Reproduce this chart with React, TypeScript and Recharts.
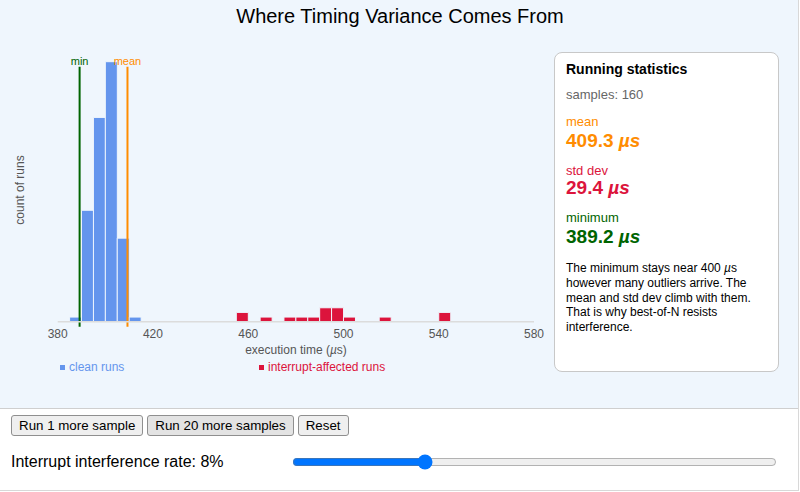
import { BarChart, Bar, XAxis, YAxis, ReferenceLine } from 'recharts'

// 5 µs bins, left edge of each bin
const bins = [
  380, 385, 390, 395, 400, 405, 410, 415, 420, 425,
  430, 435, 440, 445, 450, 455, 460, 465, 470, 475,
  480, 485, 490, 495, 500, 505, 510, 515, 520, 525,
  530, 535, 540, 545, 550, 555, 560, 565, 570, 575,
]
const cleanCounts = [
  0, 1, 24, 44, 56, 18, 1, 0, 0, 0,
  0, 0, 0, 0, 0, 0, 0, 0, 0, 0,
  0, 0, 0, 0, 0, 0, 0, 0, 0, 0,
  0, 0, 0, 0, 0, 0, 0, 0, 0, 0,
]
const interruptCounts = [
  0, 0, 0, 0, 0, 0, 0, 0, 0, 0,
  0, 0, 0, 0, 0, 2, 0, 1, 0, 1,
  1, 1, 3, 3, 1, 0, 0, 1, 0, 0,
  0, 0, 2, 0, 0, 0, 0, 0, 0, 0,
]
const timeTicks = [380, 420, 460, 500, 540, 580]
const minTime = 389.2
const meanTime = 409.3
const stdDev = 29.4
const sampleCount = 160
const ratePct = 8

const BLUE = '#6495ED'
const RED = '#DC143C'
const ORANGE = '#FF8C00'
const GREEN = '#006400'
const FONT = '"Liberation Sans", Arial, Helvetica, sans-serif'

const data = bins.map((b, i) => ({
  bin: b,
  mid: b + 2.5,
  clean: cleanCounts[i],
  interrupt: interruptCounts[i],
}))

export default function App() {
  const abs = (top: number, left: number, extra: React.CSSProperties = {}): React.CSSProperties => ({
    position: 'absolute', top, left, whiteSpace: 'nowrap', ...extra,
  })

  return (
    <div style={{ position: 'absolute', top: 0, left: 0, width: 798, height: 490, fontFamily: FONT, border: '1px solid #d8d8d8', borderTop: 'none', borderLeft: 'none' }}>
      <div style={{ position: 'absolute', top: 0, left: 0, width: 798, height: 408, background: '#EFF6FD', borderBottom: '1px solid #cfcfcf' }}>
        <div style={abs(3, 0, { width: 800, textAlign: 'center', fontSize: 20, lineHeight: '26px', color: '#000' })}>
          Where Timing Variance Comes From
        </div>

        <div style={abs(0, 0)}>
          <BarChart
            width={560}
            height={400}
            data={data}
            margin={{ top: 61.7, right: 26, left: 57.7, bottom: 48.3 }}
            barCategoryGap={0}
            barGap={0}
          >
            <XAxis xAxisId="bins" dataKey="bin" hide height={0} />
            <XAxis
              xAxisId="t"
              dataKey="mid"
              type="number"
              domain={[380, 580]}
              ticks={timeTicks}
              allowDataOverflow
              height={30}
              tickLine={false}
              tickSize={0}
              tickMargin={8}
              axisLine={{ stroke: '#dcdcdc', strokeWidth: 1.5 }}
              tick={{ fill: '#555', fontSize: 12, fontFamily: FONT }}
            />
            <YAxis hide domain={[0, 56]} />
            <Bar xAxisId="bins" dataKey="clean" stackId="a" fill={BLUE} stroke="#EFF6FD" strokeWidth={1} isAnimationActive={false} />
            <Bar xAxisId="bins" dataKey="interrupt" stackId="a" fill={RED} stroke="#EFF6FD" strokeWidth={1} isAnimationActive={false} />
            <ReferenceLine
              xAxisId="t"
              segment={[{ x: minTime, y: -1.1 }, { x: minTime, y: 54.9 }]}
              stroke={GREEN}
              strokeWidth={2}
              ifOverflow="visible"
              label={{ value: 'min', position: 'top', offset: 2, fill: GREEN, stroke: 'none', fontSize: 11, fontFamily: FONT }}
            />
            <ReferenceLine
              xAxisId="t"
              segment={[{ x: meanTime, y: -1.1 }, { x: meanTime, y: 54.9 }]}
              stroke={ORANGE}
              strokeWidth={2}
              ifOverflow="visible"
              label={{ value: 'mean', position: 'top', offset: 2, fill: ORANGE, stroke: 'none', fontSize: 11, fontFamily: FONT }}
            />
          </BarChart>
        </div>

        <div style={abs(183, -16, { transform: 'rotate(-90deg)', width: 72, textAlign: 'center', fontSize: 12, lineHeight: '14px', color: '#555' })}>
          count of runs
        </div>
        <div style={abs(343, 196, { width: 200, textAlign: 'center', fontSize: 12, lineHeight: '14px', color: '#555' })}>
          execution time (<i>µ</i>s)
        </div>

        <div style={abs(360, 60, { fontSize: 12, lineHeight: '14px', color: BLUE })}>
          <span style={{ display: 'inline-block', width: 5, height: 5, background: BLUE, marginRight: 4, verticalAlign: 'middle' }} />
          clean runs
        </div>
        <div style={abs(360, 259, { fontSize: 12, lineHeight: '14px', color: RED })}>
          <span style={{ display: 'inline-block', width: 5, height: 5, background: RED, marginRight: 4, verticalAlign: 'middle' }} />
          interrupt-affected runs
        </div>

        <div style={{ position: 'absolute', top: 52, left: 554, width: 225, height: 320, boxSizing: 'border-box', background: '#fff', border: '1px solid #c8c8c8', borderRadius: 8 }}>
          <div style={abs(7, 11, { fontSize: 14, fontWeight: 'bold', lineHeight: '18px' })}>Running statistics</div>
          <div style={abs(34, 11, { fontSize: 13, lineHeight: '16px', color: '#666' })}>samples: {sampleCount}</div>
          <div style={abs(61, 11, { fontSize: 13, lineHeight: '16px', color: ORANGE })}>mean</div>
          <div style={abs(77, 11, { fontSize: 19, fontWeight: 'bold', lineHeight: '22px', color: ORANGE })}>{meanTime.toFixed(1)} <i>µs</i></div>
          <div style={abs(110, 11, { fontSize: 13, lineHeight: '16px', color: RED })}>std dev</div>
          <div style={abs(124, 11, { fontSize: 19, fontWeight: 'bold', lineHeight: '22px', color: RED })}>{stdDev.toFixed(1)} <i>µs</i></div>
          <div style={abs(157, 11, { fontSize: 13, lineHeight: '16px', color: GREEN })}>minimum</div>
          <div style={abs(173, 11, { fontSize: 19, fontWeight: 'bold', lineHeight: '22px', color: GREEN })}>{minTime.toFixed(1)} <i>µs</i></div>
          <div style={abs(208, 11, { fontSize: 12, lineHeight: '14.8px', color: '#000' })}>
            The minimum stays near 400 <i>µ</i>s<br />
            however many outliers arrive. The<br />
            mean and std dev climb with them.<br />
            That is why best-of-N resists<br />
            interference.
          </div>
        </div>
      </div>

      <div style={abs(415, 11, { display: 'flex', gap: 4 })}>
        {['Run 1 more sample', 'Run 20 more samples', 'Reset'].map((t, i) => (
          <button
            key={t}
            style={{ fontFamily: FONT, fontSize: 13.33, padding: '2px 7px', border: '1px solid #8f8f8f', borderRadius: 3, background: i === 1 ? '#e3e3e3' : '#efefef', color: '#000' }}
          >
            {t}
          </button>
        ))}
      </div>
      <div style={abs(452, 11, { fontSize: 16, lineHeight: '20px', color: '#000' })}>
        Interrupt interference rate: {ratePct}%
      </div>
      <input
        type="range"
        min={0}
        max={30}
        defaultValue={ratePct}
        style={{ position: 'absolute', top: 454, left: 292, width: 485, margin: 0 }}
      />
    </div>
  )
}
